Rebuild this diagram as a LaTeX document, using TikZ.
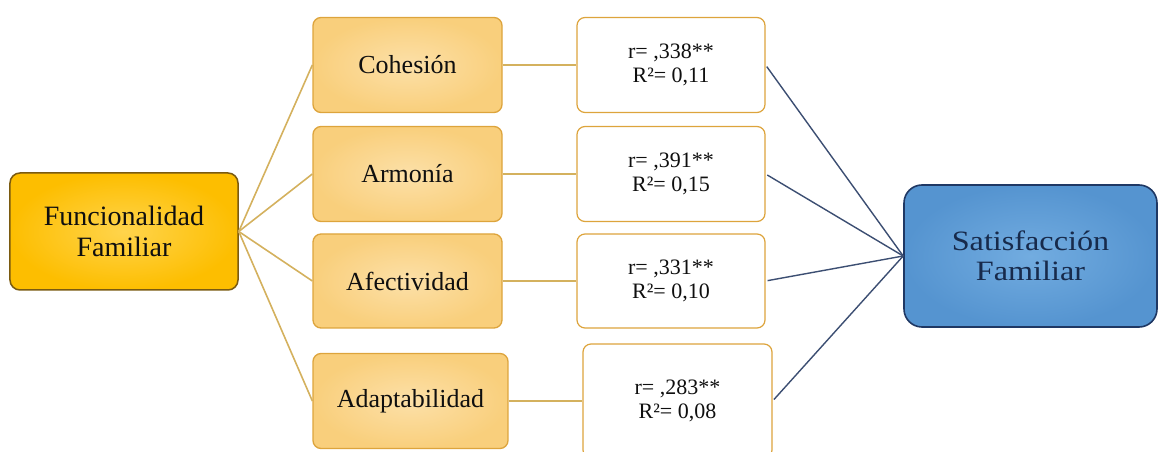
\documentclass[tikz,border=0pt]{standalone}
\usepackage{fontspec}
\setmainfont{Liberation Serif}
\definecolor{orfill}{HTML}{F9CF7C}
\definecolor{orfilllight}{HTML}{FCE0A8}
\definecolor{orborder}{HTML}{DDA43C}
\definecolor{goldfill}{HTML}{FDBE00}
\definecolor{goldlight}{HTML}{FFD44C}
\definecolor{goldborder}{HTML}{7A5A10}
\definecolor{bluefill}{HTML}{5594D0}
\definecolor{bluelight}{HTML}{72ACE0}
\definecolor{blueborder}{HTML}{1F3864}
\definecolor{orline}{HTML}{D4B15E}
\definecolor{blline}{HTML}{3C4E72}
\definecolor{txt}{HTML}{0F0F0F}
\begin{document}
\begin{tikzpicture}[x=1bp,y=-1bp,
  base/.style={rectangle,align=center,inner sep=0pt,text=txt},
  dimbox/.style={base,draw=orborder,line width=1.3bp,rounded corners=8bp,
    inner color=orfilllight,outer color=orfill,
    font=\fontsize{26bp}{29bp}\selectfont,minimum height=95bp},
  valbox/.style={base,draw=orborder,line width=1.2bp,rounded corners=8bp,fill=white,
    font=\fontsize{22bp}{23.5bp}\selectfont},
  mainbox/.style={base,draw=goldborder,line width=1.5bp,rounded corners=10bp,
    inner color=goldlight,outer color=goldfill,
    font=\fontsize{28bp}{31bp}\selectfont},
  satbox/.style={base,draw=blueborder,line width=1.6bp,rounded corners=18bp,
    inner color=bluelight,outer color=bluefill,text=blueborder!75!black,
    font=\fontsize{28bp}{30bp}\selectfont},
  orcon/.style={draw=orline,line width=1.6bp},
  blcon/.style={draw=blline,line width=1.4bp,shorten <=2bp}]
\useasboundingbox (0,0) rectangle (1159,452);

\node[mainbox,minimum width=228bp,minimum height=117bp] (fun) at (124,231.5)
  {Funcionalidad\\Familiar};

\node[dimbox,minimum width=189bp] (coh) at (407.5,65) {Cohesión};
\node[dimbox,minimum width=189bp] (arm) at (407.5,174) {Armonía};
\node[dimbox,minimum width=189bp,minimum height=94bp] (afe) at (407.5,281) {Afectividad};
\node[dimbox,minimum width=195bp] (ada) at (410.5,401) {Adaptabilidad};

\node[valbox,minimum width=188bp,minimum height=95bp] (v1) at (671,65)
  {r= ,338**\\R²= 0,11};
\node[valbox,minimum width=188bp,minimum height=95bp] (v2) at (671,174)
  {r= ,391**\\R²= 0,15};
\node[valbox,minimum width=188bp,minimum height=94bp] (v3) at (671,281)
  {r= ,331**\\R²= 0,10};
\node[valbox,minimum width=189bp,minimum height=114bp] (v4) at (677.5,401)
  {r= ,283**\\R²= 0,08};

\node[satbox,minimum width=253bp,minimum height=142bp] (sat) at (1030.5,256)
  {\scalebox{1.15}[1]{Satisfacción}\\\scalebox{1.15}[1]{Familiar}};

\foreach \n in {coh,arm,afe,ada}{
  \draw[orcon] (fun.east) -- (\n.west);
}
\draw[orcon] (coh.east) -- (coh.east -| v1.west);
\draw[orcon] (arm.east) -- (arm.east -| v2.west);
\draw[orcon] (afe.east) -- (afe.east -| v3.west);
\draw[orcon] (ada.east) -- (ada.east -| v4.west);

\foreach \n in {v1,v2,v3,v4}{
  \draw[blcon] (\n.east) -- (sat.west);
}
\end{tikzpicture}
\end{document}
